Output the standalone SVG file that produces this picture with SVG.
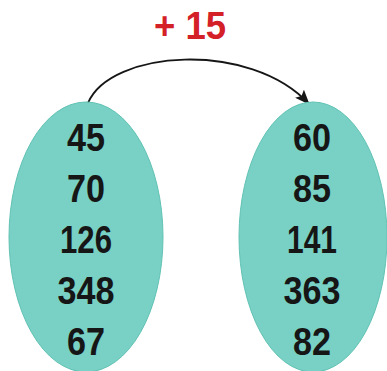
<svg xmlns="http://www.w3.org/2000/svg" width="387" height="371" viewBox="0 0 387 371">
<style>
.oval{fill:#78d1c4;stroke:#60c2b4;stroke-width:1}
.num{font-family:"Liberation Sans",Arial,sans-serif;font-weight:bold;font-size:39px;fill:#161616;text-anchor:middle}
.lbl{font-family:"Liberation Sans",Arial,sans-serif;font-weight:bold;font-size:38px;fill:#d42027;text-anchor:middle}
.edge{fill:none;stroke:#161616;stroke-width:1.9}
</style>
<defs>
<marker id="ah" markerWidth="16" markerHeight="12" refX="14" refY="6" orient="auto" markerUnits="userSpaceOnUse">
<path d="M0,0 L15,6 L0,12 L3,6 Z" fill="#161616"/>
</marker>
</defs>
<rect width="387" height="371" fill="#fff"/>
<g id="connectors">
<path class="edge" d="M88,103 C110,50 250,40 309,104" marker-end="url(#ah)"/>
<text class="lbl" x="190" y="39" textLength="72" lengthAdjust="spacingAndGlyphs">+ 15</text>
</g>
<g id="left">
<ellipse class="oval" cx="86" cy="237" rx="77" ry="135"/>
<text class="num" x="86" y="151" textLength="38" lengthAdjust="spacingAndGlyphs">45</text>
<text class="num" x="86" y="202" textLength="38" lengthAdjust="spacingAndGlyphs">70</text>
<text class="num" x="86" y="253" textLength="52" lengthAdjust="spacingAndGlyphs">126</text>
<text class="num" x="86" y="304" textLength="57" lengthAdjust="spacingAndGlyphs">348</text>
<text class="num" x="86" y="355" textLength="38" lengthAdjust="spacingAndGlyphs">67</text>
</g>
<g id="right">
<ellipse class="oval" cx="313" cy="237" rx="74" ry="135"/>
<text class="num" x="312" y="151" textLength="38" lengthAdjust="spacingAndGlyphs">60</text>
<text class="num" x="312" y="202" textLength="38" lengthAdjust="spacingAndGlyphs">85</text>
<text class="num" x="312" y="253" textLength="50" lengthAdjust="spacingAndGlyphs">141</text>
<text class="num" x="312" y="304" textLength="57" lengthAdjust="spacingAndGlyphs">363</text>
<text class="num" x="312" y="355" textLength="38" lengthAdjust="spacingAndGlyphs">82</text>
</g>
</svg>
